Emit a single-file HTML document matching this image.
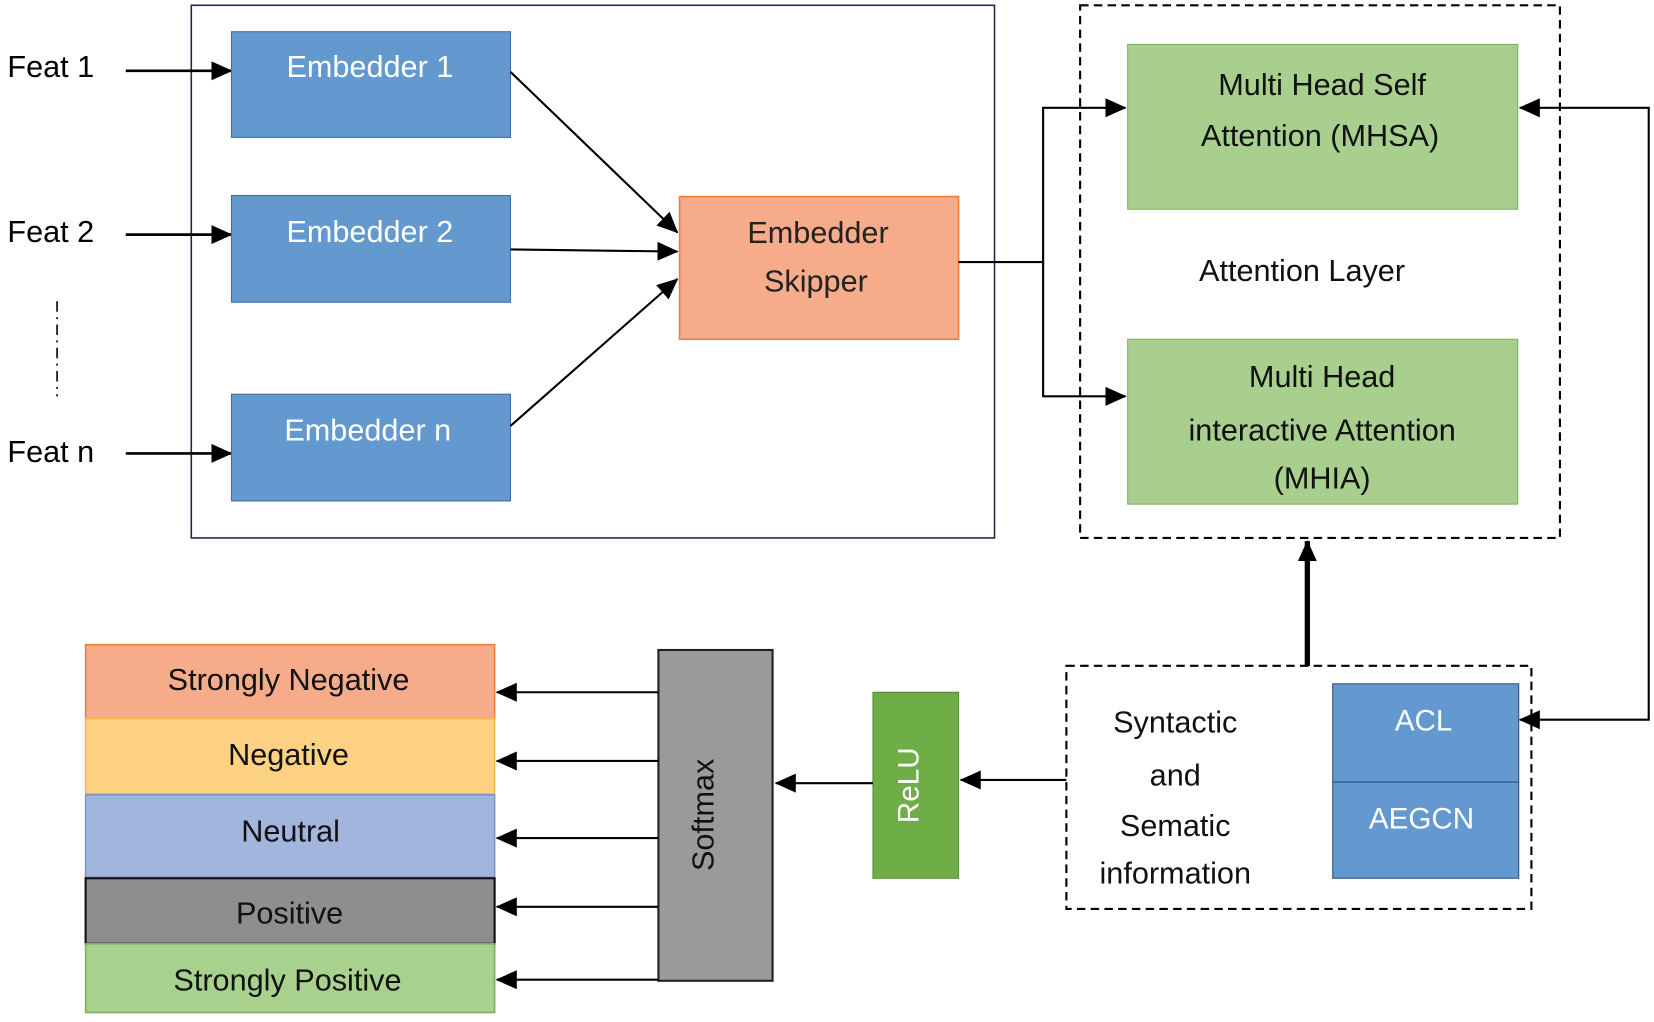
<!DOCTYPE html>
<html><head><meta charset="utf-8"><style>
html,body{margin:0;padding:0;background:#fff;}
svg{display:block;}
text{font-family:"Liberation Sans","DejaVu Sans",sans-serif;}
</style></head><body>
<svg width="1654" height="1022" viewBox="0 0 1565 967" preserveAspectRatio="none" xmlns="http://www.w3.org/2000/svg">
<defs>
<marker id="b" markerWidth="20" markerHeight="18" refX="19" refY="9" orient="auto" markerUnits="userSpaceOnUse"><path d="M0,0 L20,9 L0,18 z" fill="#000"/></marker>
</defs>
<rect width="1565" height="967" fill="#fff"/>
<rect x="181" y="5" width="760" height="504" fill="none" stroke="#1f2a4a" stroke-width="1.5"/>
<g font-size="29" fill="#000">
<text x="7" y="73">Feat 1</text>
<text x="7" y="229">Feat 2</text>
<text x="7" y="437">Feat n</text>
</g>
<line x1="54" y1="285" x2="54" y2="375" stroke="#000" stroke-width="1.5" stroke-dasharray="10,5,2,5"/>
<g stroke="#000" stroke-width="2.5" marker-end="url(#b)">
<line x1="119" y1="67" x2="219" y2="67"/>
<line x1="119" y1="222" x2="219" y2="222"/>
<line x1="119" y1="429" x2="219" y2="429"/>
</g>
<g fill="#6399cf" stroke="#3f6ea5" stroke-width="1">
<rect x="219" y="30" width="264" height="100"/>
<rect x="219" y="185" width="264" height="101"/>
<rect x="219" y="373" width="264" height="101"/>
</g>
<g font-size="29" fill="#fff" text-anchor="middle">
<text x="350" y="73">Embedder 1</text>
<text x="350" y="229">Embedder 2</text>
<text x="348" y="417">Embedder n</text>
</g>
<rect x="643" y="186" width="264" height="135" fill="#f6ac8a" stroke="#ed7d3e" stroke-width="1.5"/>
<g font-size="29" fill="#222" text-anchor="middle">
<text x="774" y="230">Embedder</text>
<text x="772" y="276">Skipper</text>
</g>
<g stroke="#000" stroke-width="2" marker-end="url(#b)">
<line x1="483" y1="68" x2="641" y2="220"/>
<line x1="483" y1="236" x2="641" y2="238"/>
<line x1="483" y1="403" x2="641" y2="264"/>
</g>
<polyline points="907,248 987,248" fill="none" stroke="#000" stroke-width="2"/>
<line x1="987" y1="102" x2="987" y2="375" stroke="#000" stroke-width="2"/>
<g stroke="#000" stroke-width="2" marker-end="url(#b)">
<line x1="986" y1="102" x2="1065" y2="102"/>
<line x1="986" y1="375" x2="1065" y2="375"/>
</g>
<rect x="1022" y="5" width="454" height="504" fill="none" stroke="#000" stroke-width="2" stroke-dasharray="8,5"/>
<g fill="#a8cf8e" stroke="#7fae62" stroke-width="1">
<rect x="1067" y="42" width="369" height="156"/>
<rect x="1067" y="321" width="369" height="156"/>
</g>
<g font-size="29" fill="#111" text-anchor="middle">
<text x="1251" y="90">Multi Head Self</text>
<text x="1249" y="138">Attention (MHSA)</text>
<text x="1232" y="266">Attention Layer</text>
<text x="1251" y="366">Multi Head</text>
<text x="1251" y="417">interactive Attention</text>
<text x="1251" y="462">(MHIA)</text>
</g>
<polyline points="1560,102 1560,681" fill="none" stroke="#000" stroke-width="2"/>
<g stroke="#000" stroke-width="2" marker-end="url(#b)">
<line x1="1561" y1="102" x2="1438" y2="102"/>
<line x1="1561" y1="681" x2="1438" y2="681"/>
</g>
<line x1="1237" y1="630" x2="1237" y2="512" stroke="#000" stroke-width="5" marker-end="url(#b)"/>
<rect x="1009" y="630" width="440" height="230" fill="none" stroke="#000" stroke-width="2" stroke-dasharray="8,5"/>
<g font-size="29" fill="#111" text-anchor="middle">
<text x="1112" y="693">Syntactic</text>
<text x="1112" y="743">and</text>
<text x="1112" y="791">Sematic</text>
<text x="1112" y="836">information</text>
</g>
<rect x="1261" y="647" width="176" height="93" fill="#6399cf" stroke="#2e4f7a" stroke-width="1"/>
<rect x="1261" y="740" width="176" height="91" fill="#6399cf" stroke="#2e4f7a" stroke-width="1"/>
<g font-size="28" fill="#fff" text-anchor="middle">
<text x="1347" y="691">ACL</text>
<text x="1345" y="784">AEGCN</text>
</g>
<line x1="1009" y1="738" x2="909" y2="738" stroke="#000" stroke-width="2" marker-end="url(#b)"/>
<rect x="826" y="655" width="81" height="176" fill="#6fad47" stroke="#548c33" stroke-width="1"/>
<text transform="translate(869,743) rotate(-90)" font-size="28" fill="#fff" text-anchor="middle">ReLU</text>
<line x1="826" y1="741" x2="734" y2="741" stroke="#000" stroke-width="2" marker-end="url(#b)"/>
<rect x="623" y="615" width="108" height="313" fill="#9a9a9a" stroke="#222" stroke-width="2"/>
<text transform="translate(675,771) rotate(-90)" font-size="29" fill="#111" text-anchor="middle">Softmax</text>
<rect x="81" y="610" width="387" height="70" fill="#f6ac8a" stroke="#ed7d3e" stroke-width="1.5"/>
<rect x="81" y="680" width="387" height="71" fill="#fdd383" stroke="#f5b945" stroke-width="1.5"/>
<rect x="81" y="752" width="387" height="78" fill="#a2b5dd" stroke="#7e95c7" stroke-width="1.5"/>
<rect x="81" y="831" width="387" height="62" fill="#8e8e8e" stroke="#111" stroke-width="2"/>
<rect x="81" y="893" width="387" height="65" fill="#a9d18e" stroke="#7fae62" stroke-width="1.5"/>
<g font-size="29" fill="#111" text-anchor="middle">
<text x="273" y="653">Strongly Negative</text>
<text x="273" y="724">Negative</text>
<text x="275" y="796">Neutral</text>
<text x="274" y="874">Positive</text>
<text x="272" y="937">Strongly Positive</text>
</g>
<g stroke="#000" stroke-width="2" marker-end="url(#b)">
<line x1="623" y1="655" x2="470" y2="655"/>
<line x1="623" y1="720" x2="470" y2="720"/>
<line x1="623" y1="793" x2="470" y2="793"/>
<line x1="623" y1="858" x2="470" y2="858"/>
<line x1="623" y1="927" x2="470" y2="927"/>
</g>
</svg>
</body></html>
